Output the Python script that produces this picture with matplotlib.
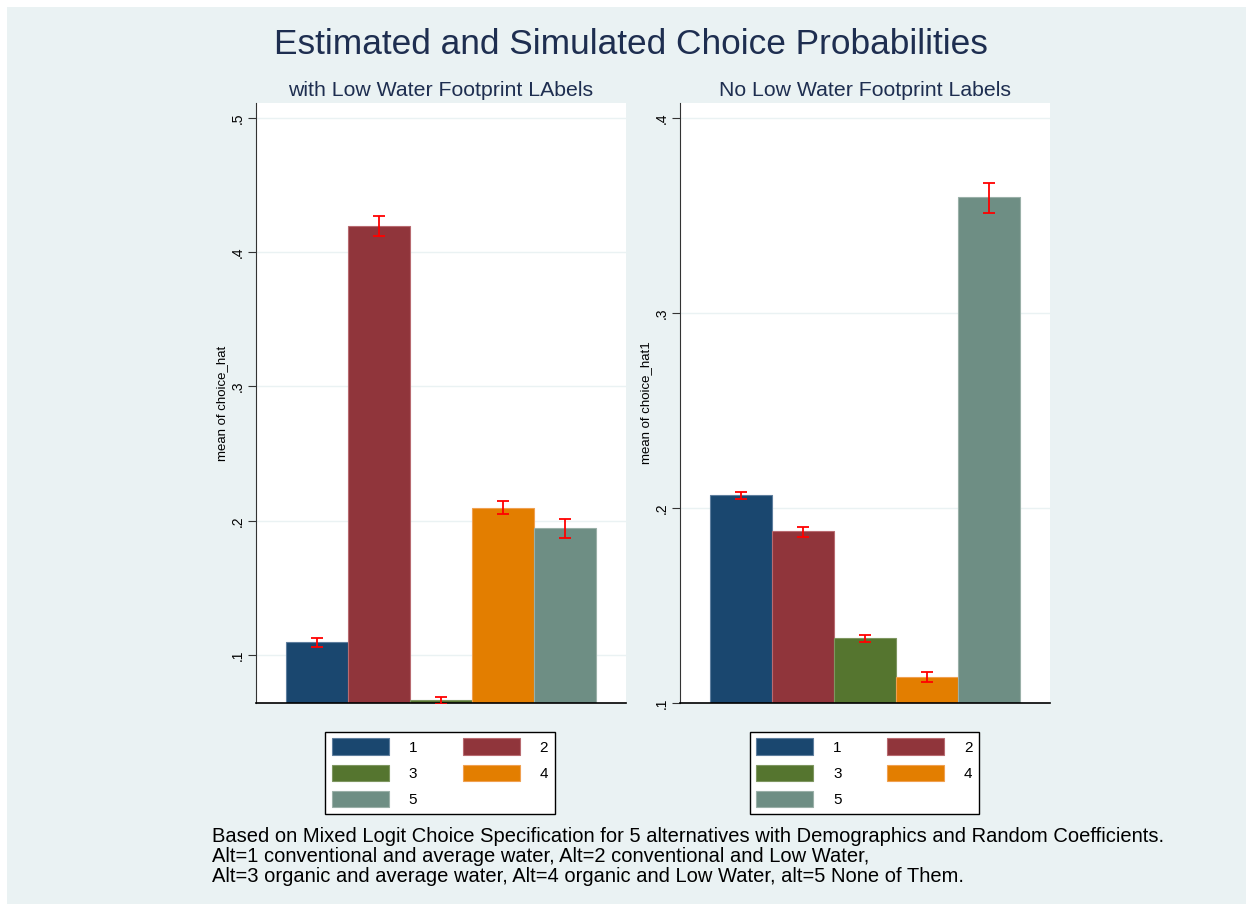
import numpy as np
import matplotlib
matplotlib.use("Agg")
import matplotlib.pyplot as plt
from matplotlib.patches import Rectangle, Patch

plt.rcParams['font.family'] = ['Liberation Sans', 'DejaVu Sans']

# data
alts = [1, 2, 3, 4, 5]
labels_mean = [0.1097, 0.4196, 0.0664, 0.2097, 0.1948]
labels_lo = [0.1060, 0.4120, 0.0634, 0.2052, 0.1873]
labels_hi = [0.1127, 0.4270, 0.0686, 0.2149, 0.2015]

nolabels_mean = [0.2065, 0.1880, 0.1332, 0.1133, 0.3593]
nolabels_lo = [0.2046, 0.1853, 0.1311, 0.1106, 0.3513]
nolabels_hi = [0.2081, 0.1901, 0.1350, 0.1157, 0.3668]

left_ticks = [0.1, 0.2, 0.3, 0.4, 0.5]
right_ticks = [0.1, 0.2, 0.3, 0.4]
tick_text_left = [".1", ".2", ".3", ".4", ".5"]
tick_text_right = [".1", ".2", ".3", ".4"]

colors = ['#1A476F', '#90353B', '#55752F', '#E37E00', '#6E8E84']
edges = ['#5E7E9E', '#B86A70', '#7E9660', '#F0A050', '#9AB0A8']
bg = '#EAF2F3'

fig = plt.figure(figsize=(12.53, 9.11), dpi=100)
fig.patch.set_facecolor('white')
fig.add_artist(Rectangle((7 / 1253, 7 / 911), 1 - 14 / 1253, 1 - 14 / 911,
                         transform=fig.transFigure, fc=bg, ec='none', zorder=-10))


def panel(rect, means, lo, hi, ylim, ticks, ticktext, ylabel, subtitle):
    ax = fig.add_axes(rect)
    ax.set_facecolor('white')
    base = ylim[0]
    x = np.array(alts)
    for i in range(len(x)):
        ax.bar(x[i], means[i] - base, bottom=base, width=1.0, color=colors[i],
               edgecolor=edges[i], linewidth=0.8, zorder=2)
    m = np.array(means)
    yerr = np.vstack([m - np.array(lo), np.array(hi) - m])
    ax.errorbar(x, m, yerr=yerr, fmt='none', ecolor='red', elinewidth=1.3,
                capsize=4, capthick=1.3, zorder=3)
    ax.set_xlim(0.01, 5.99)
    ax.set_ylim(*ylim)
    ax.set_xticks([])
    ax.set_yticks(ticks)
    ax.set_yticklabels(ticktext, rotation=90, va='center', fontsize=10)
    ax.tick_params(axis='y', length=6, width=0.8, pad=2, color='#333333')
    for t in ticks:
        ax.axhline(t, color=bg, lw=1.0, zorder=1)
    ax.spines['top'].set_visible(False)
    ax.spines['right'].set_visible(False)
    ax.spines['left'].set_color('#333333')
    ax.spines['bottom'].set_color('black')
    ax.spines['bottom'].set_linewidth(1.2)
    ax.set_ylabel(ylabel, fontsize=9.5, labelpad=2)
    ax.set_title(subtitle, fontsize=15.3, color='#1E2E50', pad=5)
    return ax


h = 600 / 911
axL = panel([256 / 1253, 1 - 703 / 911, 370 / 1253, h], labels_mean, labels_lo, labels_hi,
            (0.0642, 0.5112), left_ticks, tick_text_left, "mean of choice_hat",
            "with Low Water Footprint LAbels")
axR = panel([680 / 1253, 1 - 703 / 911, 370 / 1253, h], nolabels_mean, nolabels_lo, nolabels_hi,
            (0.1, 0.4077), right_ticks, tick_text_right, "mean of choice_hat1",
            "No Low Water Footprint Labels")

# legends, row-major order 1 2 / 3 4 / 5
order = [0, 2, 4, 1, 3]
for ax, cx in [(axL, 440), (axR, 864.5)]:
    handles = [Patch(facecolor=colors[i], edgecolor=edges[i], linewidth=0.8) for i in order]
    labs = [str(alts[i]) for i in order]
    leg = fig.legend(handles, labs, ncol=2, loc='upper center',
                     bbox_to_anchor=(cx / 1253, 1 - 731.5 / 911), fontsize=11,
                     frameon=True, fancybox=False, edgecolor='black', facecolor='white',
                     framealpha=1.0,
                     handlelength=3.73, handleheight=1.25, handletextpad=1.29,
                     columnspacing=3.0, labelspacing=0.66, borderpad=0.45,
                     borderaxespad=0)
    leg.get_frame().set_linewidth(1.0)

fig.text(631 / 1253, 1 - 45 / 911, "Estimated and Simulated Choice Probabilities",
         ha='center', va='center', fontsize=25.4, color='#1E2E50')

notes = ["Based on Mixed Logit Choice Specification for 5 alternatives with Demographics and Random Coefficients.",
         "Alt=1 conventional and average water, Alt=2 conventional and Low Water,",
         "Alt=3 organic and average water, Alt=4 organic and Low Water, alt=5 None of Them."]
for k, line in enumerate(notes):
    fig.text(212 / 1253, 1 - (837 + 20 * k) / 911, line, ha='left', va='center',
             fontsize=14.5, color='black')

fig.savefig("out.png", dpi=100)
